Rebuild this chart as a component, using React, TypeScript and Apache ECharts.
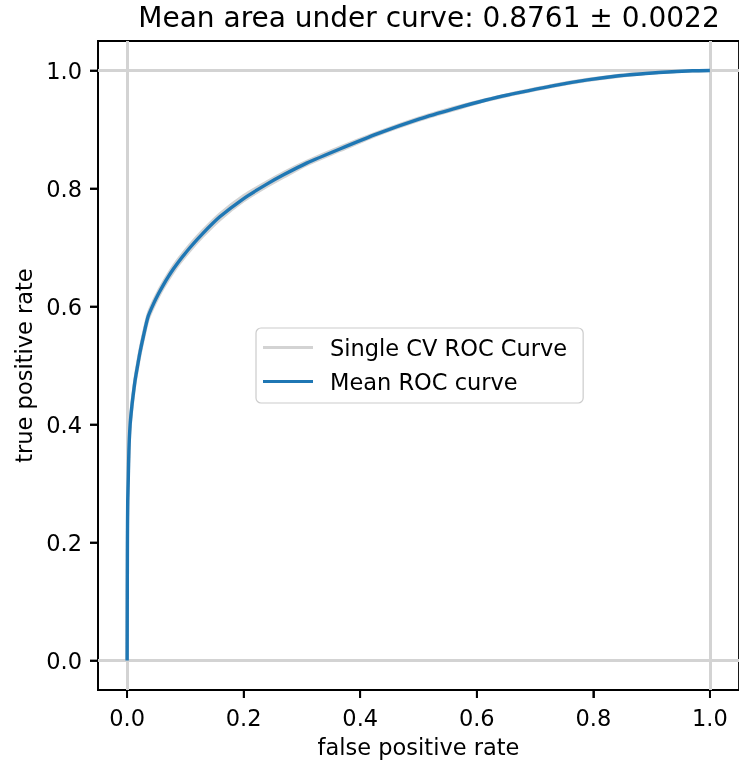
import React, { useEffect, useRef } from "react";
import * as echarts from "echarts";

const TITLE = "Mean area under curve: 0.8761 ± 0.0022";
const X_LABEL = "false positive rate";
const Y_LABEL = "true positive rate";
const TICKS = [0, 0.2, 0.4, 0.6, 0.8, 1.0];

const fpr = [0, 0.0005, 0.001, 0.002, 0.003, 0.005, 0.008, 0.011, 0.014, 0.018, 0.022, 0.028, 0.036, 0.045, 0.054, 0.063, 0.071, 0.079, 0.09, 0.108, 0.13, 0.159, 0.2, 0.239, 0.27, 0.308, 0.365, 0.43, 0.502, 0.56, 0.616, 0.67, 0.73, 0.79, 0.844, 0.89, 0.935, 0.97, 1.0];
const meanTpr = [0, 0.2, 0.27, 0.31, 0.355, 0.398, 0.43, 0.455, 0.477, 0.5, 0.522, 0.55, 0.583, 0.604, 0.622, 0.638, 0.651, 0.663, 0.678, 0.7, 0.724, 0.752, 0.783, 0.807, 0.824, 0.843, 0.867, 0.893, 0.918, 0.935, 0.95, 0.962, 0.974, 0.984, 0.991, 0.995, 0.998, 0.9995, 1.0];
const cvTpr1 = [0, 0.19, 0.26, 0.3, 0.345, 0.392, 0.424, 0.45, 0.472, 0.495, 0.517, 0.545, 0.578, 0.599, 0.617, 0.633, 0.646, 0.658, 0.673, 0.695, 0.719, 0.747, 0.779, 0.803, 0.82, 0.84, 0.864, 0.891, 0.916, 0.933, 0.949, 0.961, 0.973, 0.983, 0.99, 0.995, 0.998, 0.9995, 1.0];
const cvTpr2 = [0, 0.21, 0.28, 0.32, 0.365, 0.404, 0.436, 0.46, 0.482, 0.505, 0.527, 0.555, 0.588, 0.609, 0.627, 0.643, 0.656, 0.668, 0.683, 0.705, 0.729, 0.757, 0.788, 0.811, 0.828, 0.846, 0.87, 0.895, 0.92, 0.937, 0.951, 0.963, 0.975, 0.985, 0.992, 0.996, 0.998, 0.9995, 1.0];
const cvTpr3 = [0, 0.2, 0.27, 0.31, 0.355, 0.399, 0.431, 0.456, 0.478, 0.501, 0.524, 0.552, 0.585, 0.606, 0.624, 0.64, 0.653, 0.665, 0.68, 0.702, 0.726, 0.754, 0.785, 0.809, 0.826, 0.844, 0.868, 0.893, 0.918, 0.935, 0.95, 0.962, 0.974, 0.984, 0.991, 0.995, 0.998, 0.9995, 1.0];

const FONT = "DejaVu Sans";
const AXIS_MIN = -0.05;
const AXIS_MAX = 1.05;
const pair = (ys: number[]) => fpr.map((x, i) => [x, ys[i]]);

export default function App() {
  const ref = useRef<HTMLDivElement>(null);
  useEffect(() => {
    if (!ref.current) return;
    const chart = echarts.init(ref.current, undefined, { renderer: "svg" });
    const axisCommon = {
      type: "value" as const,
      min: AXIS_MIN,
      max: AXIS_MAX,
      splitLine: { show: false },
      axisLine: {
        show: true,
        onZero: false,
        lineStyle: { color: "#000", width: 1.8 },
      },
      axisTick: {
        show: true,
        customValues: TICKS,
        length: 8,
        lineStyle: { color: "#000", width: 1.8 },
      },
      axisLabel: {
        customValues: TICKS,
        formatter: (v: number) => v.toFixed(1),
        fontFamily: FONT,
        fontSize: 22.5,
        color: "#000",
        margin: 16,
      },
      nameLocation: "middle" as const,
      nameTextStyle: { fontFamily: FONT, fontSize: 22.5, color: "#000" },
    };
    const cvSeries = [cvTpr1, cvTpr2, cvTpr3].map((ys, i) => ({
      type: "line",
      name: "Single CV ROC Curve",
      data: pair(ys),
      showSymbol: false,
      symbol: "none",
      smooth: 0.25,
      itemStyle: { color: "#d3d3d3" },
      lineStyle: { color: "#d3d3d3", width: 3 },
      z: 2,
      silent: true,
      ...(i === 0
        ? {
            markLine: {
              silent: true,
              symbol: ["none", "none"],
              label: { show: false },
              lineStyle: { color: "#d3d3d3", width: 3, type: "solid" },
              data: [{ xAxis: 0 }, { xAxis: 1 }, { yAxis: 0 }, { yAxis: 1 }],
              z: 1,
            },
          }
        : {}),
    }));
    const titleGraphic = {
      id: "title",
      type: "text",
      x: 429,
      y: 17,
      style: {
        text: TITLE,
        fontFamily: FONT,
        fontSize: 28,
        fill: "#000",
        textAlign: "center",
        textVerticalAlign: "middle",
      },
    };
    chart.setOption({
      animation: false,
      grid: {
        left: 98,
        top: 41,
        width: 642,
        height: 649,
        show: true,
        borderColor: "#000",
        borderWidth: 1.8,
        backgroundColor: "transparent",
      },
      xAxis: { ...axisCommon, name: X_LABEL, nameGap: 45 },
      yAxis: { ...axisCommon, name: Y_LABEL, nameGap: 62 },
      legend: {
        data: [
          { name: "Single CV ROC Curve", icon: "rect" },
          { name: "Mean ROC curve", icon: "rect" },
        ],
        orient: "vertical",
        left: 256,
        top: 328,
        padding: [8, 16, 10, 7],
        itemGap: 11,
        itemWidth: 50,
        itemHeight: 3,
        borderColor: "#cccccc",
        borderWidth: 1.2,
        borderRadius: 5,
        backgroundColor: "rgba(255,255,255,0.8)",
        textStyle: {
          fontFamily: FONT,
          fontSize: 22.5,
          color: "#000",
          padding: [0, 0, 0, 12],
        },
      },
      graphic: [titleGraphic],
      series: [
        ...cvSeries,
        {
          type: "line",
          name: "Mean ROC curve",
          data: pair(meanTpr),
          showSymbol: false,
          symbol: "none",
          smooth: 0.25,
          itemStyle: { color: "#1f77b4" },
          lineStyle: { color: "#1f77b4", width: 3.4 },
          z: 3,
        },
      ],
    });

    // outward tick marks placed through the axes' own scales
    const bottomY = chart.convertToPixel({ yAxisIndex: 0 }, AXIS_MIN) as number;
    const leftX = chart.convertToPixel({ xAxisIndex: 0 }, AXIS_MIN) as number;
    const tickStyle = { stroke: "#000", lineWidth: 1.8 };
    const ticks: any[] = [];
    TICKS.forEach((v, i) => {
      const px = chart.convertToPixel({ xAxisIndex: 0 }, v) as number;
      const py = chart.convertToPixel({ yAxisIndex: 0 }, v) as number;
      if (isFinite(px) && isFinite(bottomY)) {
        ticks.push({
          id: "xt" + i,
          type: "line",
          z: 10,
          shape: { x1: px, y1: bottomY, x2: px, y2: bottomY + 8 },
          style: tickStyle,
          silent: true,
        });
      }
      if (isFinite(py) && isFinite(leftX)) {
        ticks.push({
          id: "yt" + i,
          type: "line",
          z: 10,
          shape: { x1: leftX - 8, y1: py, x2: leftX, y2: py },
          style: tickStyle,
          silent: true,
        });
      }
    });
    chart.setOption({ graphic: [titleGraphic, ...ticks] });
    return () => chart.dispose();
  }, []);
  return (
    <div
      ref={ref}
      style={{ position: "fixed", left: 0, top: 0, width: 739, height: 767 }}
    />
  );
}
